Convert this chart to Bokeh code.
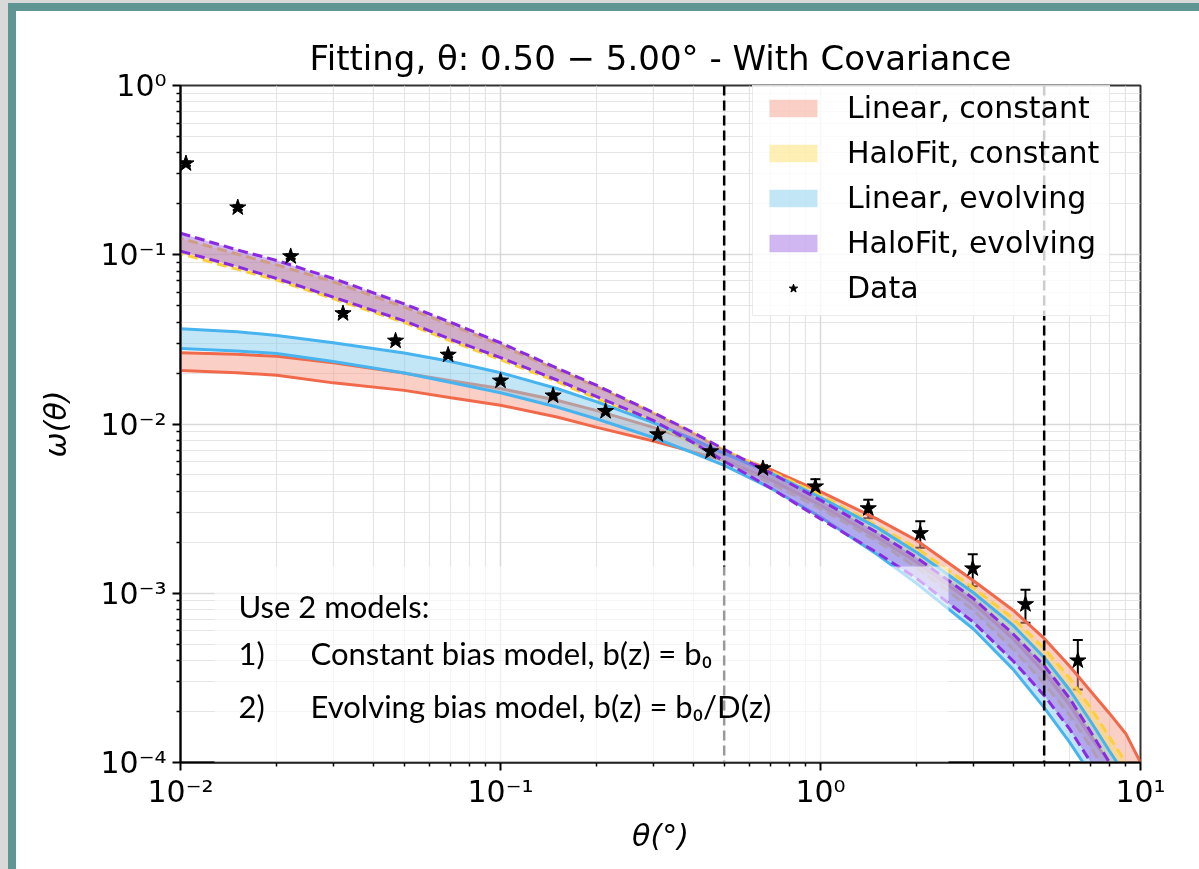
import numpy as np
from bokeh.plotting import figure
from bokeh.models import (ColumnDataSource, Span, Label, BoxAnnotation, Legend, LegendItem,
                          FixedTicker, CustomJSTickFormatter, Whisker, TeeHead, Range1d)
from bokeh.embed import file_html
from bokeh.resources import INLINE

# ---------------- data ----------------
theta_model = [0.01, 0.015, 0.02, 0.03, 0.05, 0.07, 0.1, 0.15, 0.2, 0.3, 0.4, 0.5, 0.7, 1.0,
               1.5, 2.0, 3.0, 4.0, 5.0, 6.0, 7.0, 8.0, 9.0, 10.0]

lin_const_hi = [0.0264, 0.0258, 0.0251, 0.0230, 0.0200, 0.0180, 0.0162, 0.0138, 0.0120, 0.00955,
                0.00794, 0.00679, 0.00537, 0.00398, 0.00275, 0.00205, 0.00119, 0.000794, 0.000541,
                0.000372, 0.000263, 0.000195, 0.000148, 0.0001]
lin_const_lo = [0.0207, 0.0201, 0.0194, 0.0175, 0.0158, 0.0143, 0.0129, 0.0110, 0.00955, 0.00794,
                0.00684, 0.00608, 0.00468, 0.00331, 0.00214, 0.00152, 0.000871, 0.000537, 0.00034,
                0.000219, 0.000141, 0.0001, 0.000063, 0.0000398]
halo_const_hi = [0.125, 0.101, 0.0871, 0.0692, 0.0490, 0.0385, 0.0292, 0.0209, 0.0166, 0.0116,
                 0.00881, 0.0070, 0.00525, 0.0038, 0.00251, 0.00184, 0.00108, 0.000708, 0.000472,
                 0.000316, 0.000209, 0.000141, 0.0001, 0.0000708]
halo_const_lo = [0.1016, 0.0822, 0.0708, 0.0550, 0.0398, 0.0309, 0.0240, 0.0178, 0.0141, 0.0102,
                 0.00759, 0.0061, 0.00447, 0.00316, 0.00204, 0.00141, 0.000794, 0.000468, 0.000293,
                 0.000191, 0.000123, 0.0000794, 0.0000501, 0.0000316]
lin_evol_hi = [0.0366, 0.0351, 0.0333, 0.0302, 0.0263, 0.0234, 0.0201, 0.0162, 0.0135, 0.0102,
               0.00813, 0.0067, 0.00513, 0.00368, 0.00245, 0.00174, 0.00101, 0.000646, 0.000417,
               0.000269, 0.000174, 0.000117, 0.0000832, 0.0000501]
lin_evol_lo = [0.0279, 0.0270, 0.0261, 0.0234, 0.0200, 0.0176, 0.0153, 0.0126, 0.0107, 0.00832,
               0.00676, 0.00569, 0.00417, 0.00282, 0.0017, 0.00114, 0.000617, 0.000355, 0.000211,
               0.000132, 0.0000851, 0.0000562, 0.0000355, 0.00002]
halo_evol_hi = [0.134, 0.107, 0.0925, 0.0724, 0.0513, 0.0398, 0.0302, 0.0214, 0.0169, 0.0117,
                0.00891, 0.00708, 0.00513, 0.00355, 0.00229, 0.00162, 0.000933, 0.000575, 0.000374,
                0.00024, 0.000151, 0.0001, 0.0000676, 0.0000447]
halo_evol_lo = [0.105, 0.0851, 0.0724, 0.0562, 0.0407, 0.0316, 0.0247, 0.0182, 0.0145, 0.0105,
                0.00776, 0.00603, 0.00417, 0.00275, 0.00174, 0.00122, 0.000676, 0.000398, 0.000249,
                0.000158, 0.0001, 0.000063, 0.0000398, 0.0000251]

theta_data = [0.0104, 0.0151, 0.0221, 0.0322, 0.0470, 0.0686, 0.100, 0.146, 0.213, 0.310, 0.453,
              0.661, 0.964, 1.41, 2.05, 2.99, 4.37, 6.37]
w_data = [0.346, 0.19, 0.0977, 0.045, 0.0310, 0.0256, 0.0180, 0.0147, 0.0119, 0.00867, 0.00688,
          0.00546, 0.00427, 0.00317, 0.00226, 0.0014, 0.00086, 0.00040]
w_err = [0.01, 0.006, 0.003, 0.0015, 0.001, 0.0008, 0.0006, 0.0005, 0.0004, 0.0003, 0.00025,
         0.00025, 0.00045, 0.0004, 0.0004, 0.0003, 0.00019, 0.00013]

fit_range = [0.5, 5.0]
x_ticks = [0.01, 0.1, 1.0, 10.0]
y_ticks = [1e-4, 1e-3, 1e-2, 1e-1, 1.0]

labels = ["Linear, constant", "HaloFit, constant", "Linear, evolving", "HaloFit, evolving", "Data"]
title_text = "Fitting, \u03b8: 0.50 \u2212 5.00\u00b0 - With Covariance"
note_lines = ["Use 2 models:", "1)", "Constant bias model, b(z) = b\u2080",
              "2)", "Evolving bias model, b(z) = b\u2080/D(z)"]

# ---------------- styling ----------------
RED_L, RED_F = "#f0694a", "#f5a08e"
YEL_L, YEL_F = "#fbd03a", "#fddc5c"
BLU_L, BLU_F = "#47b4f0", "#87cef0"
PUR_L, PUR_F = "#8a2be2", "#9a5fe0"
TEAL, GRAY = "#5f9593", "#d9d9d9"

OX, OY = 16, 11                     # page offset of the figure (slide frame)
W, H = 1199 - OX, 869 - OY
FL, FT, FW, FH = 180, 85, 960, 677  # frame, page coordinates

def xd(px):
    return 10 ** (-2 + (px - FL) / (FW / 3))

def yd(py):
    return 10 ** (-(py - FT) / (FH / 4))

p = figure(width=W, height=H, x_axis_type="log", y_axis_type="log",
           x_range=Range1d(0.01, 10), y_range=Range1d(1e-4, 1),
           output_backend="svg", toolbar_location=None,
           min_border_left=FL - OX, min_border_right=W - (FL - OX) - FW,
           min_border_top=FT - OY, min_border_bottom=H - (FT - OY) - FH,
           title=title_text)
p.styles = {"position": "fixed", "left": f"{OX}px", "top": f"{OY}px",
            "box-shadow": (f"-8px -8px 0 0 {TEAL}, 0 -8px 0 0 {TEAL}, -8px 0 0 0 {TEAL}, "
                           f"-16px -11px 0 0 {GRAY}, 0 -11px 0 0 {GRAY}, -16px 0 0 0 {GRAY}")}
p.border_fill_color = "white"
p.background_fill_color = "white"
p.outline_line_color = "#333333"
p.outline_line_width = 2

p.title.text_font = "DejaVu Sans"
p.title.text_font_size = "34px"
p.title.text_font_style = "normal"
p.title.align = "center"
p.title.text_color = "black"
p.title.standoff = 16

minor_x = [m * 10.0 ** k for k in range(-2, 1) for m in range(2, 10)]
minor_y = [m * 10.0 ** k for k in range(-4, 0) for m in range(2, 10)]
p.xaxis.ticker = FixedTicker(ticks=x_ticks, minor_ticks=minor_x)
p.yaxis.ticker = FixedTicker(ticks=y_ticks, minor_ticks=minor_y)
fmt_code = """
const e = Math.round(Math.log10(tick));
const m = {'-':'\u207b','0':'\u2070','1':'\u00b9','2':'\u00b2','3':'\u00b3','4':'\u2074',
           '5':'\u2075','6':'\u2076','7':'\u2077','8':'\u2078','9':'\u2079'};
return '10' + String(e).split('').map(c => m[c]).join('');
"""
p.xaxis.formatter = CustomJSTickFormatter(code=fmt_code)
p.yaxis.formatter = CustomJSTickFormatter(code=fmt_code)

for ax in (p.xaxis, p.yaxis):
    ax.major_label_text_font = "DejaVu Sans"
    ax.major_label_text_font_size = "30px"
    ax.major_label_text_color = "black"
    ax.axis_line_width = 2
    ax.axis_line_color = "black"
    ax.major_tick_line_width = 2
    ax.major_tick_out = 8
    ax.major_tick_in = 0
    ax.minor_tick_out = 4
    ax.minor_tick_in = 0
    ax.minor_tick_line_width = 1.5
    ax.axis_label_text_font = "DejaVu Sans"
    ax.axis_label_text_font_size = "30px"
    ax.axis_label_text_font_style = "italic"
    ax.axis_label_text_color = "black"
p.xaxis.major_label_standoff = 3
p.yaxis.major_label_standoff = 6
p.xaxis.axis_label = "\u03b8(\u00b0)"
p.yaxis.axis_label = "\u03c9(\u03b8)"
p.xaxis.axis_label_standoff = 6
p.yaxis.axis_label_standoff = 24

for g in (p.xgrid, p.ygrid):
    g.grid_line_color = "#d0d0d0"
    g.grid_line_width = 1.5
    g.grid_line_alpha = 0.8
    g.minor_grid_line_color = "#dedede"
    g.minor_grid_line_width = 1.2
    g.minor_grid_line_alpha = 0.8

src = ColumnDataSource(dict(t=theta_model, rl=lin_const_lo, rh=lin_const_hi,
                            yl=halo_const_lo, yh=halo_const_hi,
                            bl=lin_evol_lo, bh=lin_evol_hi,
                            pl=halo_evol_lo, ph=halo_evol_hi))

a_rc = p.varea(x="t", y1="rl", y2="rh", source=src, fill_color=RED_F, fill_alpha=0.5)
for c in ("rl", "rh"):
    p.line("t", c, source=src, line_color=RED_L, line_width=3)
a_hc = p.varea(x="t", y1="yl", y2="yh", source=src, fill_color=YEL_F, fill_alpha=0.45)
for c in ("yl", "yh"):
    p.line("t", c, source=src, line_color=YEL_L, line_width=3, line_dash="10 5",
           line_dash_offset=7)
a_le = p.varea(x="t", y1="bl", y2="bh", source=src, fill_color=BLU_F, fill_alpha=0.5)
for c in ("bl", "bh"):
    p.line("t", c, source=src, line_color=BLU_L, line_width=3)
a_he = p.varea(x="t", y1="pl", y2="ph", source=src, fill_color=PUR_F, fill_alpha=0.45)
for c in ("pl", "ph"):
    p.line("t", c, source=src, line_color=PUR_L, line_width=3, line_dash="10 5")

wd = np.array(w_data)
we = np.array(w_err)
dsrc = ColumnDataSource(dict(t=theta_data, w=w_data, up=list(wd + we), lo=list(wd - we)))
p.add_layout(Whisker(source=dsrc, base="t", upper="up", lower="lo", dimension="height",
                     line_color="black", line_width=2,
                     upper_head=TeeHead(size=10, line_color="black", line_width=2),
                     lower_head=TeeHead(size=10, line_color="black", line_width=2)))
stars = p.scatter("t", "w", source=dsrc, marker="star", size=17, fill_color="black",
                  line_color="black")

for v in fit_range:
    p.add_layout(Span(location=v, dimension="height", line_color="black", line_width=2.5,
                      line_dash="10 5"))

# semi-transparent note box
p.add_layout(BoxAnnotation(left=xd(214), right=xd(948), top=yd(566), bottom=1e-4,
                           fill_color="white", fill_alpha=0.6, line_color=None))
note_pos = [(238, 605), (238, 652), (310, 652), (238, 705), (310, 705)]
for txt, (px, py) in zip(note_lines, note_pos):
    p.add_layout(Label(x=xd(px), y=yd(py), text=txt, text_font="Lato",
                       text_font_size="31px", text_baseline="middle", text_color="black"))

legend = Legend(items=[LegendItem(label=labels[0], renderers=[a_rc]),
                       LegendItem(label=labels[1], renderers=[a_hc]),
                       LegendItem(label=labels[2], renderers=[a_le]),
                       LegendItem(label=labels[3], renderers=[a_he]),
                       LegendItem(label=labels[4], renderers=[stars])],
                location=(572, 446))
legend.label_text_font = "DejaVu Sans"
legend.label_text_font_size = "30px"
legend.label_text_color = "black"
legend.glyph_width = 60
legend.glyph_height = 22
legend.label_standoff = 24
legend.spacing = 10
legend.padding = 10
legend.margin = 0
legend.background_fill_color = "white"
legend.background_fill_alpha = 0.8
legend.border_line_color = "#dddddd"
legend.border_line_alpha = 0.6
p.add_layout(legend)

open("out.html", "w").write(file_html(p, INLINE))
